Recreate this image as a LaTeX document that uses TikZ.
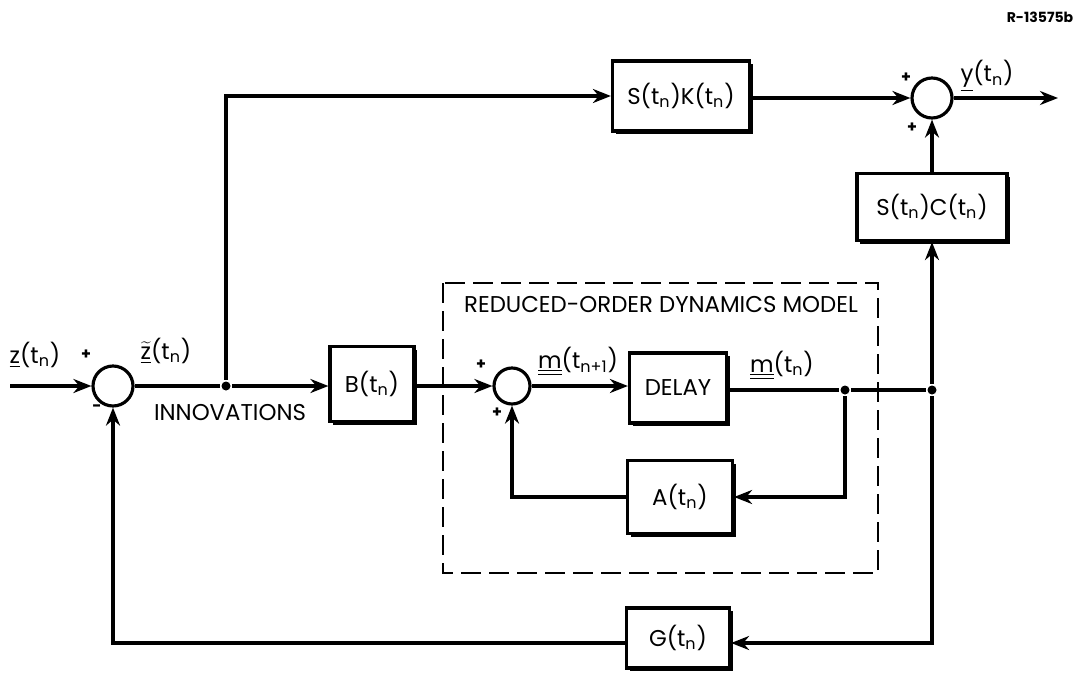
\documentclass[tikz,border=0pt]{standalone}
\usepackage{fontspec}
\setmainfont{Poppins}
\usetikzlibrary{shadows, arrows.meta}

\tikzset{
  block/.style={draw, line width=1.8pt, fill=white, minimum width=#1, minimum height=14mm,
    drop shadow={shadow xshift=1.8pt, shadow yshift=-1.8pt, fill=black, opacity=1}},
  sum/.style={draw, circle, line width=1.8pt, minimum size=8mm, inner sep=0pt},
  dot/.style={circle, fill=black, inner sep=0pt, minimum size=1.8mm},
  sign/.style={font=\small\bfseries, inner sep=1pt},
}
\newcommand{\tn}{(t\textsubscript{n})}

\begin{document}
\begin{tikzpicture}[x=0.2mm, y=-0.2mm, ->, >={Stealth[length=3.6mm, width=2.8mm]},
    line width=1.8pt, font=\fontsize{13}{15}\selectfont]
  \useasboundingbox (0,0) rectangle (1080,685);

  \node[font=\footnotesize\bfseries] (tag) at (1040,17) {R-13575b};

  % summing junctions
  \node[sum] (S1) at (113,386) {};
  \node[sum] (S2) at (932,98) {};
  \node[sum, minimum size=7.2mm] (S3) at (512,386) {};

  % blocks
  \node[block=27.4mm] (SK) at (681,96) {S\tn K\tn};
  \node[block=30mm, minimum height=13.4mm] (SC) at (932,207) {S\tn C\tn};
  \node[block=16.8mm, minimum height=15mm] (B) at (372,384) {B\tn};
  \node[block=19.4mm] (DL) at (678,388) {DELAY};
  \node[block=21mm, minimum height=14.6mm] (A) at (680,497) {A\tn};
  \node[block=20.6mm, minimum height=12mm] (G) at (678,638) {G\tn};

  % branch points and free ends
  \node[dot] (J1) at (226,386) {};
  \node[dot] (J2) at (845,390) {};
  \node[dot] (J3) at (932,390) {};
  \coordinate (in) at (10,386);
  \coordinate (out) at (1058,98);

  % dashed model boundary
  \draw[-, line width=1.4pt, dash pattern=on 4mm off 1.6mm] (443,283) rectangle (878,573);
  \node (model) at (661,305) {REDUCED-ORDER DYNAMICS MODEL};

  % labels
  \node (zin) at (35,355) {\underline{z}\tn};
  \node[inner sep=1pt] (ztil) at (166,351) {$\widetilde{\underline{\hbox{z}}}$\tn};
  \node (innov) at (230,413) {INNOVATIONS};
  \node (y) at (987,76) {\underline{y}\tn};
  \node (m1) at (578,361) {\underline{\underline{m}}(t\textsubscript{n+1})};
  \node (m0) at (782,365) {\underline{\underline{m}}\tn};
  \node[sign] at (86,355) {+};
  \node[sign] at (97,408) {-};
  \node[sign] at (906,78) {+};
  \node[sign] at (912,128) {+};
  \node[sign] at (481,365) {+};
  \node[sign] at (497,413) {+};

  % connections
  \draw (in) -- (S1.west);
  \draw[-] (S1.east) -- (J1);
  \draw (J1) -- (B.west |- J1);
  \draw (J1) |- (SK.west);
  \draw (SK.east |- S2) -- (S2.west);
  \draw (S2.east) -- (out);
  \draw (SC.north) -- (S2.south);
  \draw (B.east |- S3) -- (S3.west);
  \draw (S3.east) -- (DL.west |- S3);
  \draw[-] (DL.east |- J2) -- (J2) -- (J3);
  \draw (J2) |- (A.east);
  \draw (A.west) -| (S3.south);
  \draw (J3) -- (SC.south);
  \draw (J3) |- ([yshift=-1mm]G.east);
  \draw ([yshift=-1mm]G.west) -| (S1.south);
\end{tikzpicture}
\end{document}
